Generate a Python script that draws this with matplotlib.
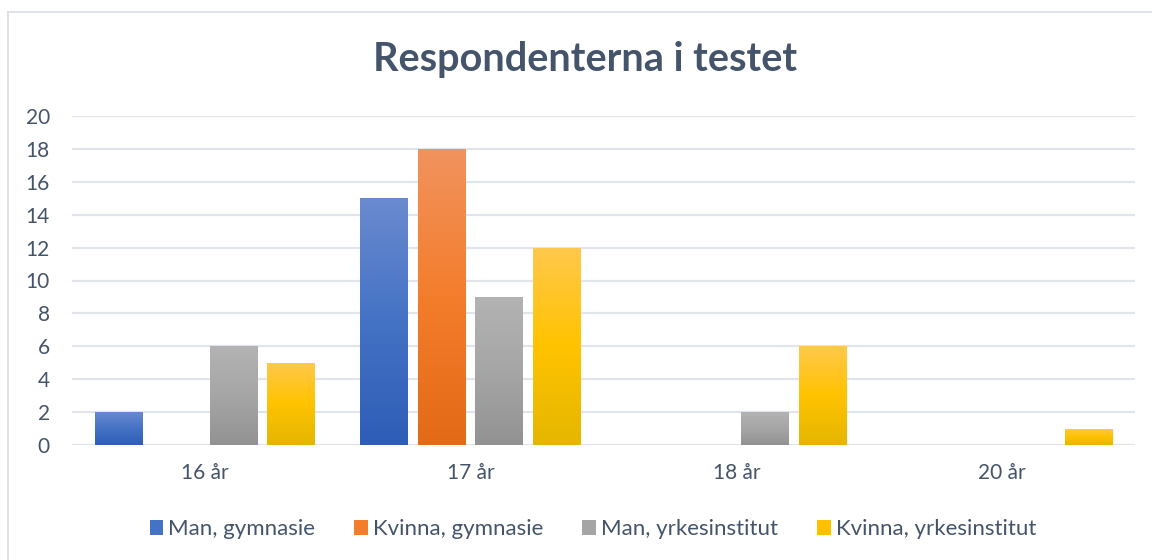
import matplotlib
matplotlib.use("Agg")
import matplotlib.pyplot as plt
import numpy as np
from matplotlib.colors import LinearSegmentedColormap
from matplotlib.patches import Patch
from matplotlib.lines import Line2D

categories = ["16 år", "17 år", "18 år", "20 år"]
series_names = ["Man, gymnasie", "Kvinna, gymnasie", "Man, yrkesinstitut", "Kvinna, yrkesinstitut"]
man_gymnasie = [2, 15, 0, 0]
kvinna_gymnasie = [0, 18, 0, 0]
man_yrkes = [6, 9, 2, 0]
kvinna_yrkes = [5, 12, 6, 1]
yticks = [0, 2, 4, 6, 8, 10, 12, 14, 16, 18, 20]

series = [man_gymnasie, kvinna_gymnasie, man_yrkes, kvinna_yrkes]
# (dark bottom, base, light top)
grads = [
    ("#2E5DB7", "#4472C4", "#6A8AD0"),
    ("#E36A16", "#F47D2C", "#F1935E"),
    ("#929292", "#A6A6A6", "#B3B3B3"),
    ("#E5B600", "#FFC300", "#FFC84C"),
]
legend_colors = ["#4472C4", "#F47D2C", "#A5A5A5", "#FFC000"]

text_color = "#44546A"
plt.rcParams['font.family'] = ['Lato', 'DejaVu Sans']

fig = plt.figure(figsize=(11.52, 5.6), dpi=100)
bx, by = 7.5 / 1152, 1 - 11.5 / 560
fig.lines.append(Line2D([bx, bx], [0, by], transform=fig.transFigure, color="#D9DEE4", linewidth=1.2))
fig.lines.append(Line2D([bx, 1], [by, by], transform=fig.transFigure, color="#D9DEE4", linewidth=1.2))

ax = fig.add_axes([72 / 1152, 1 - 445 / 560, (1135 - 72) / 1152, (445 - 116) / 560])

x = np.arange(len(categories))
spacing = 0.2165
width = 0.18
ramp = np.linspace(0, 1, 256).reshape(-1, 1)
for i, (vals, g) in enumerate(zip(series, grads)):
    bars = ax.bar(x + (i - 1.5) * spacing, vals, width, color="none", edgecolor="none", zorder=3)
    cmap = LinearSegmentedColormap.from_list(f"g{i}", list(g))
    for b in bars:
        h = b.get_height()
        if h <= 0:
            continue
        x0 = b.get_x()
        im = ax.imshow(ramp, extent=[x0, x0 + b.get_width(), 0, h], origin="lower",
                       aspect="auto", cmap=cmap, zorder=3, interpolation="bilinear")
        im.set_clip_path(b)

ax.set_xlim(-0.5, len(categories) - 0.5)
ax.set_ylim(0, 20)
ax.set_yticks(yticks)
ax.set_xticks(x)
ax.set_xticklabels(categories)
ax.yaxis.grid(True, color="#E1E5EB", linewidth=1.6, zorder=0)
ax.set_axisbelow(True)
for s in ax.spines.values():
    s.set_visible(False)
ax.tick_params(axis="both", length=0, labelsize=15, colors=text_color)
ax.tick_params(axis="y", pad=16)
ax.tick_params(axis="x", pad=13)

fig.text(0.508, 1 - 60 / 560, "Respondenterna i testet", ha="center", va="center",
         fontsize=28.5, fontweight="bold", color=text_color)

handles = [Patch(facecolor=c, edgecolor="none") for c in legend_colors]
leg = fig.legend(handles, series_names, loc="center", bbox_to_anchor=(593 / 1152, 1 - 529 / 560),
                 ncol=4, frameon=False, fontsize=16, handlelength=0.6, handleheight=0.65,
                 handletextpad=0.25, columnspacing=1.75, labelcolor=text_color)

fig.savefig("out.png", dpi=100)
